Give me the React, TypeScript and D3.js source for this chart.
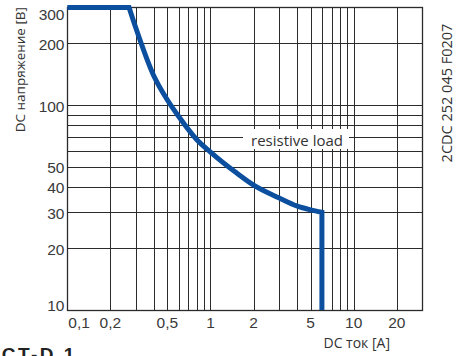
import React from "react";
import * as d3 from "d3";

const xGridValues = [0.2, 0.3, 0.4, 0.5, 0.6, 0.7, 0.8, 0.9, 1, 2, 3, 4, 5, 6, 7, 8, 9, 10, 20];
const yGridValues = [20, 30, 40, 50, 60, 70, 80, 90, 100, 200];
const xTickValues = [0.1, 0.2, 0.5, 1, 2, 5, 10, 20];
const xTickLabels = ["0,1", "0,2", "0,5", "1", "2", "5", "10", "20"];
const yTickValues = [10, 20, 30, 40, 50, 100, 200, 300];
const yTickLabels = ["10", "20", "30", "40", "50", "100", "200", "300"];

// Curve: DC current [A] vs DC voltage [V]
const curveCurrent = [0.1, 0.27, 0.3, 0.4, 0.5, 0.6, 0.8, 1, 1.5, 2, 3, 4, 5, 6, 6];
const curveVoltage = [300, 300, 240, 140, 106, 88, 68, 59, 47, 40.7, 35.3, 32.2, 30.8, 30, 10];

const W = 457;
const H = 356;
const left = 67.3, right = 422, top = 7.4, bottom = 310;

export default function App() {
  const x = d3.scaleLog().domain([0.1, 30]).range([left, right]);
  const y = d3.scaleLog().domain([10, 300]).range([bottom, top]);
  const px = (v: number) => Math.round(x(v)) + 0.5;
  const py = (v: number) => Math.round(y(v)) + 0.5;

  const n = curveCurrent.length;
  const smoothPts: [number, number][] = [];
  for (let i = 1; i < n - 1; i++) smoothPts.push([curveCurrent[i], curveVoltage[i]]);
  const smooth = d3
    .line<[number, number]>()
    .x((d) => x(d[0]))
    .y((d) => y(d[1]))
    .curve(d3.curveMonotoneX)(smoothPts) as string;
  const pathD =
    `M${x(curveCurrent[0])},${y(curveVoltage[0])}L` +
    smooth.slice(1) +
    `L${x(curveCurrent[n - 1])},${y(curveVoltage[n - 1])}`;

  const gridColor = "#2b2b2b";
  const textColor = "#333";
  const tickFont = "'Liberation Sans', Arial, sans-serif";
  const titleFont = "'Open Sans', 'Noto Sans', sans-serif";

  const x0 = px(0.1), x1 = Math.round(right) + 0.5;
  const y0 = Math.round(top) + 0.5, y1 = py(10);

  return (
    <svg
      width={W}
      height={H}
      style={{ position: "absolute", left: 0, top: 0, background: "#fff" }}
    >
      <rect x={0} y={0} width={W} height={H} fill="#fff" />
      {/* grid */}
      {xGridValues.map((v) => (
        <line key={"gx" + v} x1={px(v)} x2={px(v)} y1={y0} y2={y1} stroke={gridColor} strokeWidth={1} />
      ))}
      {yGridValues.map((v) => (
        <line key={"gy" + v} x1={x0} x2={x1} y1={py(v)} y2={py(v)} stroke={gridColor} strokeWidth={1} />
      ))}
      {/* resistive load label */}
      <rect x={243} y={129} width={106} height={20} fill="#fff" />
      <text x={297} y={145.5} textAnchor="middle" fontFamily={titleFont} fontSize={15} fill={textColor}>
        resistive load
      </text>
      {/* frame */}
      <rect x={x0} y={y0} width={x1 - x0} height={y1 - y0} fill="none" stroke={gridColor} strokeWidth={1.3} />
      {/* curve */}
      <path d={pathD} fill="none" stroke="#0b4f9e" strokeWidth={5} />
      {/* x tick labels */}
      {xTickValues.map((v, i) => (
        <text
          key={"xt" + v}
          x={i === 0 ? x(v) + 1 : x(v)}
          y={327.5}
          textAnchor={i === 0 ? "start" : "middle"}
          fontFamily={tickFont}
          fontSize={15.5}
          fill="#3a3a3a"
        >
          {xTickLabels[i]}
        </text>
      ))}
      {/* y tick labels */}
      {yTickValues.map((v, i) => {
        const yy = Math.min(Math.max(y(v) + 1, top + 6.6), bottom - 5);
        return (
          <text
            key={"yt" + v}
            x={64.5}
            y={yy + 5.6}
            textAnchor="end"
            fontFamily={tickFont}
            fontSize={15.5}
            fill="#3a3a3a"
          >
            {yTickLabels[i]}
          </text>
        );
      })}
      {/* axis titles */}
      <text
        transform="translate(24.5,7) rotate(-90)"
        textAnchor="end"
        fontFamily={titleFont}
        fontSize={13.5}
        fill={textColor}
      >
        DC напряжение [В]
      </text>
      <text x={390} y={347.5} textAnchor="end" fontFamily={titleFont} fontSize={14} fill={textColor}>
        DC ток [А]
      </text>
      <text
        transform="translate(451.5,93) rotate(-90)"
        textAnchor="middle"
        fontFamily={titleFont}
        fontSize={14.5}
        fill={textColor}
      >
        2CDC 252 045 F0207
      </text>
      <text
        x={1.7}
        y={361}
        fontFamily="'Liberation Sans', Arial, sans-serif"
        fontWeight="bold"
        fontSize={19}
        letterSpacing={2.5}
        fill="#222"
      >
        CT-D.1
      </text>
    </svg>
  );
}
